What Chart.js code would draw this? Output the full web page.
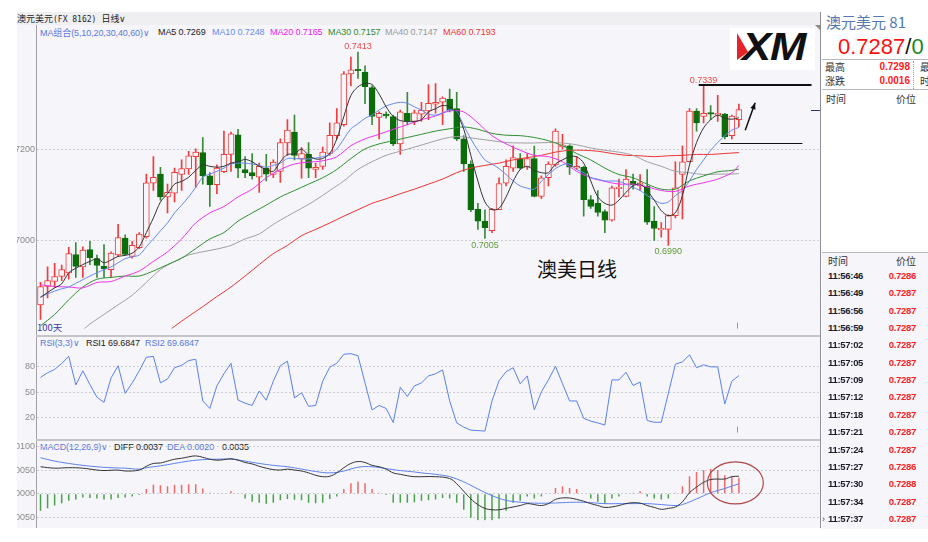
<!DOCTYPE html>
<html>
<head>
<meta charset="utf-8">
<script src="https://cdn.jsdelivr.net/npm/chart.js@4.4.1/dist/chart.umd.min.js"></script>
<style>
  body { margin: 0; width: 928px; height: 542px; background: #fff; position: relative; overflow: hidden;
         font-family: "Liberation Sans", Arial, sans-serif; }
  .abs { position: absolute; white-space: nowrap; line-height: 1; }
  canvas { position: absolute; }
  .cjk { font-family: "Noto Sans CJK SC", sans-serif; }
  .hd { font-size: 9px; letter-spacing: -0.1px; }
  .row { position: absolute; left: 0; width: 106px; font-size: 9.5px; font-weight: bold; line-height: 10px; letter-spacing: -0.3px; }
  .row .t { position: absolute; left: 6px; color: #1c1c2c; }
  .row .p { position: absolute; right: 12px; color: #ff1f1f; }
</style>
</head>
<body>
<!-- backgrounds and frame -->
<div class="abs" style="left:17px;top:12px;width:804px;height:13px;background:#efeff1"></div>
<div class="abs" style="left:17px;top:25px;width:804px;height:503px;background:#f5f5fa"></div>
<div class="abs" style="left:36px;top:25px;width:1px;height:503px;background:#a2a2a8"></div>
<div class="abs" style="left:36px;top:335px;width:785px;height:2px;background:#c4c4ca"></div>
<div class="abs" style="left:36px;top:439px;width:785px;height:2px;background:#c4c4ca"></div>
<div class="abs" style="left:820px;top:12px;width:1px;height:516px;background:#8e8e96"></div>
<div class="abs" style="left:815px;top:25px;width:0;height:0;border-top:6px solid #8a8a8a;border-left:6px solid transparent"></div>

<!-- header texts -->
<div class="abs" style="left:17px;top:14px;font-size:9px;color:#222"><span class="cjk">澳元美元</span><span style="font-family:'DejaVu Sans Mono',monospace;font-size:8px">(FX 8162)</span>&nbsp;&nbsp;<span class="cjk">日线</span>∨</div>
<div class="abs hd" style="left:40px;top:28px;color:#5a78e0">MA<span class="cjk">组合</span>(5,10,20,30,40,60)∨</div>
<div class="abs hd" style="left:158px;top:28px;color:#222">MA5 0.7269</div>
<div class="abs hd" style="left:212px;top:28px;color:#6a8cf0">MA10 0.7248</div>
<div class="abs hd" style="left:270px;top:28px;color:#ee22ee">MA20 0.7165</div>
<div class="abs hd" style="left:328px;top:28px;color:#2e8b2e">MA30 0.7157</div>
<div class="abs hd" style="left:385px;top:28px;color:#9a9a9a">MA40 0.7147</div>
<div class="abs hd" style="left:443px;top:28px;color:#ee3333">MA60 0.7193</div>

<div class="abs hd" style="left:40px;top:339px;color:#5a78e0">RSI(3,3)∨</div>
<div class="abs hd" style="left:86px;top:339px;color:#222">RSI1 69.6847</div>
<div class="abs hd" style="left:145px;top:339px;color:#5a78e0">RSI2 69.6847</div>

<div class="abs hd" style="left:40px;top:443px;color:#5a78e0">MACD(12,26,9)∨</div>
<div class="abs hd" style="left:114px;top:443px;color:#222">DIFF 0.0037</div>
<div class="abs hd" style="left:167px;top:443px;color:#5a78e0">DEA 0.0020</div>
<div class="abs hd" style="left:222px;top:443px;color:#222">0.0035</div>

<div class="abs cjk" style="left:37px;top:323px;font-size:9.5px;color:#3a3aa0">100天</div>
<div class="abs cjk" style="left:537px;top:258px;font-size:20px;line-height:22px;color:#111">澳美日线</div>

<!-- logo -->
<div class="abs" style="left:730px;top:28px;width:85px;height:42px;background:#fff;overflow:hidden">
  <div class="abs" style="left:7px;top:5px;width:11px;height:27px;background:#e8222a;clip-path:polygon(0 0,100% 70%,0 100%)"></div>
  <div class="abs" style="left:12px;top:0;font-size:38px;line-height:38px;font-weight:bold;font-style:italic;color:#111;transform:scaleX(1.15);transform-origin:left top;letter-spacing:-1px">XM</div>
</div>

<canvas id="main" width="803" height="301" style="left:17px;top:35px"></canvas>
<canvas id="rsi" width="803" height="107" style="left:17px;top:333px"></canvas>
<canvas id="macd" width="803" height="91" style="left:17px;top:437px"></canvas>

<!-- quote panel -->
<div id="panel" class="abs" style="left:822px;top:0;width:106px;height:542px;overflow:hidden;background:#fff">
  <div class="abs cjk" style="left:4px;top:12px;font-size:15px;line-height:20px;color:#5578b0">澳元美元 81</div>
  <div class="abs" style="left:16px;top:35px;font-size:22px;line-height:24px;color:#ff1010">0.7287<span style="color:#111">/</span><span style="color:#1a8a1a">0</span></div>
  <div class="abs" style="left:0;top:59px;width:106px;height:1px;background:#b8b8c0"></div>
  <div class="abs cjk" style="left:3px;top:61px;font-size:10px;line-height:12px;color:#333">最高</div>
  <div class="abs" style="left:40px;top:62px;width:48px;text-align:right;font-size:10px;font-weight:bold;color:#ff2020">0.7298</div>
  <div class="abs cjk" style="left:98px;top:61px;font-size:10px;line-height:12px;color:#333">最</div>
  <div class="abs cjk" style="left:3px;top:75px;font-size:10px;line-height:12px;color:#333">涨跌</div>
  <div class="abs" style="left:40px;top:76px;width:48px;text-align:right;font-size:10px;font-weight:bold;color:#ff2020">0.0016</div>
  <div class="abs cjk" style="left:98px;top:75px;font-size:10px;line-height:12px;color:#333">时</div>
  <div class="abs" style="left:91px;top:61px;width:0;height:28px;border-left:1px dotted #999"></div>
  <div class="abs" style="left:0;top:89px;width:106px;height:1px;background:#b8b8c0"></div>
  <div class="abs cjk" style="left:4px;top:93px;font-size:10px;line-height:12px;color:#333">时间</div>
  <div class="abs cjk" style="left:74px;top:93px;font-size:10px;line-height:12px;color:#333">价位</div>
  <div id="list" class="abs" style="left:0;top:252px;width:106px;height:276px;background:#f5f5fa;border-top:1px solid #b8b8c0">
    <div class="abs cjk" style="left:6px;top:2px;font-size:10px;line-height:12px;color:#333">时间</div>
    <div class="abs cjk" style="left:74px;top:2px;font-size:10px;line-height:12px;color:#333">价位</div>
  </div>
</div>

<script>
// daily candles, AUD/USD, oldest first
const opens = [0.6860,0.6900,0.6911,0.6922,0.6930,0.6970,0.6943,0.6981,0.6961,0.6944,
  0.6937,0.6969,0.7006,0.6966,0.6985,0.7009,0.7126,0.7146,0.7096,0.7104,
  0.7145,0.7157,0.7184,0.7193,0.7142,0.7123,0.7151,0.7189,0.7232,0.7156,
  0.7149,0.7139,0.7159,0.7145,0.7152,0.7214,0.7238,0.7179,0.7189,0.7156,
  0.7163,0.7191,0.7230,0.7254,0.7365,0.7374,0.7369,0.7335,0.7270,0.7277,
  0.7272,0.7212,0.7279,0.7261,0.7277,0.7284,0.7299,0.7303,0.7310,0.7289,
  0.7223,0.7168,0.7069,0.7043,0.7022,0.7068,0.7126,0.7159,0.7180,0.7161,
  0.7180,0.7097,0.7138,0.7166,0.7206,0.7208,0.7159,0.7161,0.7090,0.7082,
  0.7064,0.7045,0.7114,0.7097,0.7130,0.7120,0.7120,0.7043,0.7024,0.7025,
  0.7055,0.7145,0.7173,0.7284,0.7272,0.7279,0.7275,0.7277,0.7230,0.7265];
const highs = [0.6909,0.6943,0.6951,0.6947,0.6986,0.6996,0.6987,0.6999,0.6969,0.6992,
  0.6976,0.7036,0.7013,0.6999,0.7018,0.7146,0.7184,0.7161,0.7124,0.7159,
  0.7177,0.7196,0.7201,0.7226,0.7149,0.7166,0.7240,0.7238,0.7244,0.7184,
  0.7191,0.7170,0.7189,0.7177,0.7223,0.7265,0.7275,0.7204,0.7215,0.7170,
  0.7205,0.7258,0.7289,0.7370,0.7402,0.7413,0.7383,0.7339,0.7282,0.7282,
  0.7275,0.7286,0.7325,0.7286,0.7303,0.7342,0.7344,0.7315,0.7332,0.7325,
  0.7230,0.7175,0.7082,0.7068,0.7071,0.7138,0.7177,0.7208,0.7191,0.7191,
  0.7207,0.7142,0.7173,0.7245,0.7233,0.7210,0.7184,0.7163,0.7099,0.7110,
  0.7068,0.7120,0.7135,0.7156,0.7146,0.7145,0.7156,0.7075,0.7040,0.7057,
  0.7173,0.7208,0.7289,0.7289,0.7339,0.7296,0.7318,0.7279,0.7275,0.7299];
const lows = [0.6828,0.6875,0.6898,0.6913,0.6916,0.6920,0.6920,0.6948,0.6920,0.6920,
  0.6920,0.6966,0.6969,0.6962,0.6983,0.7006,0.7110,0.7089,0.7061,0.7085,
  0.7110,0.7145,0.7117,0.7124,0.7075,0.7103,0.7149,0.7152,0.7138,0.7138,
  0.7135,0.7106,0.7131,0.7138,0.7128,0.7187,0.7177,0.7137,0.7138,0.7138,
  0.7156,0.7187,0.7223,0.7251,0.7339,0.7355,0.7300,0.7254,0.7223,0.7268,
  0.7208,0.7189,0.7254,0.7254,0.7261,0.7265,0.7279,0.7254,0.7282,0.7219,
  0.7152,0.7064,0.7025,0.7005,0.7018,0.7068,0.7120,0.7152,0.7156,0.7156,
  0.7096,0.7092,0.7120,0.7163,0.7201,0.7145,0.7156,0.7054,0.7071,0.7054,
  0.7018,0.7043,0.7096,0.7096,0.7113,0.7110,0.7036,0.7001,0.7008,0.6990,
  0.7050,0.7048,0.7172,0.7240,0.7258,0.7265,0.7261,0.7223,0.7223,0.7249];
const closes = [0.6900,0.6913,0.6922,0.6937,0.6972,0.6944,0.6980,0.6963,0.6946,0.6939,
  0.6973,0.7007,0.6970,0.6990,0.7015,0.7127,0.7139,0.7096,0.7106,0.7150,
  0.7158,0.7186,0.7194,0.7142,0.7123,0.7159,0.7189,0.7234,0.7159,0.7149,
  0.7142,0.7163,0.7146,0.7172,0.7215,0.7242,0.7187,0.7191,0.7159,0.7161,
  0.7194,0.7231,0.7258,0.7365,0.7374,0.7372,0.7337,0.7272,0.7279,0.7273,
  0.7212,0.7282,0.7261,0.7280,0.7286,0.7301,0.7303,0.7312,0.7286,0.7223,
  0.7168,0.7068,0.7043,0.7029,0.7069,0.7125,0.7163,0.7182,0.7159,0.7180,
  0.7097,0.7138,0.7168,0.7240,0.7208,0.7161,0.7163,0.7090,0.7075,0.7062,
  0.7045,0.7116,0.7117,0.7135,0.7123,0.7127,0.7041,0.7027,0.7027,0.7055,
  0.7116,0.7173,0.7284,0.7258,0.7279,0.7277,0.7279,0.7228,0.7273,0.7287];

// moving averages
const ma5 = [0.6876,0.6887,0.6897,0.6906,0.6930,0.6940,0.6948,0.6955,0.6961,0.6952,
  0.6958,0.6966,0.6968,0.6973,0.6987,0.7018,0.7050,0.7085,0.7103,0.7124,
  0.7130,0.7139,0.7154,0.7166,0.7163,0.7161,0.7163,0.7170,0.7173,0.7178,
  0.7173,0.7163,0.7156,0.7152,0.7173,0.7189,0.7190,0.7201,0.7187,0.7179,
  0.7180,0.7191,0.7223,0.7272,0.7318,0.7337,0.7344,0.7342,0.7321,0.7293,
  0.7272,0.7263,0.7261,0.7261,0.7265,0.7282,0.7289,0.7296,0.7293,0.7279,
  0.7244,0.7187,0.7131,0.7085,0.7068,0.7071,0.7096,0.7130,0.7156,0.7163,
  0.7154,0.7149,0.7149,0.7168,0.7177,0.7184,0.7184,0.7170,0.7131,0.7096,
  0.7082,0.7078,0.7089,0.7106,0.7120,0.7124,0.7110,0.7089,0.7066,0.7055,
  0.7061,0.7099,0.7166,0.7215,0.7247,0.7265,0.7275,0.7268,0.7266,0.7269];
const ma10 = [0.6878,0.6884,0.6890,0.6895,0.6899,0.6907,0.6915,0.6923,0.6930,0.6937,
  0.6943,0.6952,0.6961,0.6965,0.6969,0.6987,0.7004,0.7022,0.7039,0.7061,
  0.7078,0.7096,0.7117,0.7139,0.7146,0.7152,0.7159,0.7168,0.7170,0.7170,
  0.7168,0.7165,0.7161,0.7165,0.7170,0.7180,0.7180,0.7179,0.7179,0.7181,
  0.7184,0.7189,0.7201,0.7223,0.7245,0.7256,0.7268,0.7275,0.7286,0.7295,
  0.7300,0.7303,0.7301,0.7293,0.7286,0.7277,0.7275,0.7280,0.7287,0.7282,
  0.7252,0.7223,0.7198,0.7177,0.7168,0.7158,0.7145,0.7131,0.7120,0.7115,
  0.7113,0.7130,0.7145,0.7158,0.7166,0.7168,0.7156,0.7149,0.7138,0.7135,
  0.7131,0.7131,0.7130,0.7124,0.7117,0.7110,0.7099,0.7089,0.7082,0.7085,
  0.7099,0.7110,0.7131,0.7156,0.7177,0.7198,0.7215,0.7230,0.7242,0.7248];
// [day, value] samples
const ma20 = [[0,0.6904],[2,0.6900],[4,0.6899],[6,0.6897],[8,0.6909],[10,0.6911],[12,0.6923],[14,0.6934],
  [16,0.6955],[18,0.6976],[20,0.7004],[22,0.7039],[24,0.7061],[26,0.7075],[28,0.7096],[30,0.7113],
  [32,0.7138],[34,0.7156],[36,0.7168],[38,0.7172],[40,0.7175],[42,0.7184],[44,0.7208],[46,0.7223],
  [48,0.7233],[50,0.7244],[52,0.7254],[54,0.7265],[56,0.7273],[58,0.7284],[60,0.7282],[62,0.7258],
  [64,0.7230],[66,0.7212],[68,0.7198],[70,0.7187],[72,0.7184],[74,0.7173],[76,0.7152],[78,0.7138],
  [80,0.7130],[82,0.7124],[84,0.7124],[86,0.7118],[88,0.7110],[90,0.7108],[92,0.7120],[94,0.7127],
  [96,0.7135],[98,0.7149],[99,0.7165]];
const ma30 = [[0,0.6814],[2,0.6839],[4,0.6871],[6,0.6899],[8,0.6916],[10,0.6920],[12,0.6923],[14,0.6923],
  [16,0.6934],[18,0.6948],[20,0.6962],[22,0.6983],[24,0.7004],[26,0.7018],[28,0.7043],[30,0.7061],
  [32,0.7078],[34,0.7096],[36,0.7110],[38,0.7124],[40,0.7138],[42,0.7156],[44,0.7180],[46,0.7201],
  [48,0.7212],[50,0.7219],[52,0.7226],[54,0.7233],[56,0.7240],[58,0.7245],[60,0.7249],[62,0.7244],
  [64,0.7235],[66,0.7231],[68,0.7230],[70,0.7226],[72,0.7219],[74,0.7208],[76,0.7191],[78,0.7177],
  [80,0.7159],[82,0.7145],[84,0.7138],[86,0.7124],[88,0.7113],[90,0.7113],[92,0.7131],[94,0.7142],
  [96,0.7151],[98,0.7154],[99,0.7157]];
const ma40 = [[6,0.6805],[7,0.6818],[9,0.6839],[11,0.6860],[13,0.6881],[15,0.6909],[17,0.6937],[19,0.6955],
  [21,0.6969],[23,0.6976],[25,0.6982],[27,0.6990],[29,0.7004],[31,0.7015],[33,0.7036],[35,0.7054],
  [37,0.7071],[39,0.7089],[41,0.7110],[43,0.7131],[45,0.7156],[47,0.7173],[49,0.7187],[51,0.7196],
  [53,0.7205],[55,0.7214],[57,0.7223],[59,0.7228],[62,0.7223],[64,0.7219],[66,0.7215],[68,0.7214],
  [70,0.7214],[72,0.7215],[74,0.7214],[76,0.7210],[78,0.7203],[80,0.7198],[82,0.7194],[84,0.7187],
  [86,0.7173],[88,0.7163],[90,0.7152],[92,0.7149],[94,0.7145],[96,0.7146],[98,0.7146],[99,0.7147]];
const ma60 = [[18,0.6800],[19,0.6813],[21,0.6835],[23,0.6856],[25,0.6878],[27,0.6899],[29,0.6923],[31,0.6948],
  [33,0.6972],[35,0.6990],[37,0.7011],[39,0.7025],[41,0.7039],[43,0.7054],[45,0.7068],[47,0.7082],
  [49,0.7092],[51,0.7103],[53,0.7113],[55,0.7124],[57,0.7135],[59,0.7149],[61,0.7159],[63,0.7165],
  [65,0.7170],[67,0.7177],[69,0.7182],[71,0.7187],[73,0.7194],[75,0.7198],[77,0.7198],[79,0.7196],
  [81,0.7191],[83,0.7187],[85,0.7186],[87,0.7184],[89,0.7186],[91,0.7187],[93,0.7189],[95,0.7189],
  [97,0.7191],[99,0.7193]];

const rsi = [67.5,73,77,84,92.5,58.6,75.4,59,44,38,
  67,81.4,48.6,61,75.4,91.4,92.5,61,65.7,79,
  81.8,87.5,89,39.6,30.7,57.5,71.8,84.3,40.7,37,
  34.3,51.4,40.4,63,81.4,86.8,43.2,49.3,33.2,34.3,
  63,79.6,84.3,95,95.7,93.2,61,29,34.3,30.7,
  14,55.7,45,57.5,61,69.3,71.8,76.4,39.6,13.6,
  8.6,5,4.5,3.9,39.6,63.6,74.3,79,60,69.3,
  29,50.4,64.6,80.7,60,39.6,39.6,19,15.7,13.6,
  11,64.6,64.6,73.6,58,62,16.4,14.3,14.3,48.6,
  83.2,86,94.3,79,82.5,80,80,36,63,69.7];

const macdHist = [-0.0036,-0.0031,-0.0025,-0.0020,-0.0015,-0.0012,-0.0008,-0.0009,-0.0010,-0.0012,
  -0.0012,-0.0009,-0.0008,-0.0006,-0.0003,0.0010,0.0019,0.0018,0.0016,0.0019,
  0.0019,0.0020,0.0020,0.0011,0.0002,-0.0001,0.0000,0.0005,-0.0001,-0.0010,
  -0.0017,-0.0019,-0.0021,-0.0019,-0.0014,-0.0011,-0.0013,-0.0014,-0.0019,-0.0020,
  -0.0019,-0.0011,-0.0006,0.0010,0.0022,0.0026,0.0022,0.0010,0.0002,-0.0003,
  -0.0019,-0.0019,-0.0019,-0.0018,-0.0015,-0.0014,-0.0012,-0.0009,-0.0010,-0.0019,
  -0.0034,-0.0051,-0.0056,-0.0056,-0.0056,-0.0053,-0.0036,-0.0019,-0.0015,-0.0006,
  -0.0010,-0.0006,-0.0001,0.0012,0.0016,0.0012,0.0010,0.0000,-0.0010,-0.0017,
  -0.0021,-0.0010,-0.0006,-0.0001,0.0002,0.0005,-0.0006,-0.0010,-0.0012,-0.0010,
  0.0002,0.0016,0.0037,0.0046,0.0050,0.0052,0.0050,0.0039,0.0036,0.0034];
const diffLine = [[0,0.0057],[2,0.0054],[4,0.0055],[6,0.0054],[8,0.0050],[9,0.0049],[11,0.0050],[12,0.0048],
  [14,0.0050],[15,0.0058],[16,0.0064],[17,0.0065],[18,0.0069],[19,0.0073],[20,0.0075],[21,0.0078],
  [22,0.0080],[23,0.0077],[24,0.0073],[25,0.0071],[26,0.0072],[27,0.0074],[28,0.0071],[29,0.0066],
  [30,0.0063],[31,0.0058],[32,0.0054],[33,0.0051],[34,0.0050],[35,0.0052],[36,0.0050],[37,0.0048],
  [38,0.0044],[39,0.0039],[40,0.0036],[41,0.0037],[42,0.0044],[43,0.0055],[44,0.0064],[45,0.0068],
  [46,0.0066],[47,0.0060],[48,0.0057],[49,0.0052],[50,0.0044],[51,0.0041],[52,0.0038],[53,0.0036],
  [56,0.0036],[58,0.0032],[59,0.0021],[60,0.0005],[61,-0.0011],[62,-0.0023],[63,-0.0031],[64,-0.0034],
  [65,-0.0034],[66,-0.0031],[67,-0.0028],[68,-0.0025],[69,-0.0021],[70,-0.0023],[71,-0.0025],[72,-0.0021],
  [73,-0.0012],[74,-0.0009],[75,-0.0009],[76,-0.0012],[77,-0.0016],[78,-0.0021],[79,-0.0025],[80,-0.0029],
  [81,-0.0028],[82,-0.0025],[83,-0.0021],[84,-0.0019],[85,-0.0020],[86,-0.0025],[87,-0.0029],[88,-0.0033],
  [89,-0.0031],[90,-0.0028],[91,-0.0017],[92,0.0002],[93,0.0014],[94,0.0024],[95,0.0030],[96,0.0031],
  [97,0.0031],[98,0.0036],[99,0.0037]];
const deaLine = [[0,0.0076],[2,0.0069],[4,0.0064],[6,0.0060],[8,0.0057],[10,0.0055],[12,0.0054],[14,0.0052],
  [15,0.0055],[17,0.0059],[19,0.0064],[21,0.0069],[23,0.0072],[25,0.0073],[27,0.0073],[29,0.0069],
  [31,0.0064],[33,0.0060],[35,0.0057],[37,0.0052],[39,0.0047],[41,0.0044],[43,0.0048],[45,0.0056],
  [47,0.0057],[49,0.0053],[51,0.0049],[53,0.0046],[54,0.0044],[56,0.0041],[58,0.0036],[60,0.0025],
  [62,0.0010],[64,-0.0004],[66,-0.0014],[68,-0.0018],[70,-0.0020],[72,-0.0020],[74,-0.0019],[76,-0.0018],
  [78,-0.0019],[80,-0.0021],[82,-0.0021],[84,-0.0021],[86,-0.0021],[88,-0.0023],[90,-0.0025],[91,-0.0023],
  [93,-0.0011],[95,0.0002],[97,0.0011],[99,0.0021]];

const priceTicks = [0.70, 0.72];
const priceTickLabels = ['7000', '7200'];
const rsiTicks = [20, 50, 80];
const macdTicks = [-0.005, 0, 0.005, 0.01];
const macdTickLabels = ['0050', '0000', '0050', '0100'];

const peakDays = [45, 94];
const troughDays = [63, 89];

const tickTimes = ['11:56:46','11:56:49','11:56:56','11:56:59','11:57:02','11:57:05','11:57:09','11:57:12',
  '11:57:18','11:57:21','11:57:24','11:57:27','11:57:30','11:57:34','11:57:37'];
const tickPrices = ['0.7286','0.7287','0.7287','0.7287','0.7287','0.7287','0.7287','0.7287',
  '0.7287','0.7287','0.7287','0.7286','0.7288','0.7287','0.7287'];

// quote list
const list = document.getElementById('list');
tickTimes.forEach((t, i) => {
  const row = document.createElement('div');
  row.className = 'row';
  row.style.top = (18 + i * 17.35) + 'px';
  row.innerHTML = '<span class="t">' + t + '</span><span class="p">' + tickPrices[i] + '</span>';
  list.appendChild(row);
});
const arrowMark = document.createElement('div');
arrowMark.className = 'abs';
arrowMark.style.cssText = 'left:0;top:262px;font-size:9px;color:#3344aa';
arrowMark.textContent = '›';
list.appendChild(arrowMark);

Chart.defaults.font.family = '"Liberation Sans", Arial, sans-serif';
Chart.defaults.font.size = 9;
Chart.defaults.animation = false;
Chart.defaults.plugins.legend.display = false;
Chart.defaults.plugins.tooltip.enabled = false;

const UP = '#f03c3c', DOWN = '#0b6e0b', BG = '#f5f5fa';
const up = closes.map((c, i) => c >= opens[i]);

function xAxis() {
  return { type: 'linear', min: -0.5, max: 110.5, offset: false, grid: { offset: false }, display: false };
}
function yAxis(min, max, ticks, labels) {
  return {
    min: min, max: max,
    afterFit: function (s) { s.width = 20; },
    afterBuildTicks: function (s) { s.ticks = ticks.map(v => ({ value: v })); },
    grid: { color: '#cdcdd4', drawTicks: false },
    border: { display: false, dash: [2, 2] },
    ticks: { color: '#8c8c8c', padding: 2, font: { size: 9 },
             callback: function (v, i) { return labels ? labels[i] : v; } }
  };
}
const pairs = arr => arr.map(p => ({ x: p[0], y: p[1] }));
const series = arr => arr.map((v, i) => ({ x: i, y: v }));
function maLine(data, color) {
  return { type: 'line', data: data, borderColor: color, borderWidth: 1, pointRadius: 0,
           tension: 0.3, order: 1 };
}

const mainMarks = {
  id: 'mainMarks',
  afterDatasetsDraw(chart) {
    const { ctx, chartArea: a } = chart;
    const x = chart.scales.x, y = chart.scales.y;
    ctx.save();
    ctx.font = '9px "Liberation Sans", Arial, sans-serif';
    ctx.textAlign = 'center';
    ctx.fillStyle = '#f04a4a';
    ctx.textBaseline = 'bottom';
    peakDays.forEach(d => ctx.fillText(highs[d].toFixed(4), x.getPixelForValue(d), y.getPixelForValue(highs[d]) - 1));
    ctx.fillStyle = '#5f9a35';
    ctx.textBaseline = 'top';
    troughDays.forEach(d => ctx.fillText(lows[d].toFixed(4), x.getPixelForValue(d), y.getPixelForValue(lows[d]) + 2));

    // resistance / support marks
    ctx.strokeStyle = '#111';
    ctx.lineWidth = 2;
    ctx.beginPath();
    ctx.moveTo(x.getPixelForValue(93.3), y.getPixelForValue(0.7341));
    ctx.lineTo(x.getPixelForValue(109.3), y.getPixelForValue(0.7341));
    ctx.stroke();
    ctx.lineWidth = 1;
    ctx.beginPath();
    ctx.moveTo(x.getPixelForValue(96.4), Math.round(y.getPixelForValue(0.7215)) + 0.5);
    ctx.lineTo(x.getPixelForValue(108), Math.round(y.getPixelForValue(0.7215)) + 0.5);
    ctx.stroke();

    // arrow
    const x0 = x.getPixelForValue(99.9), y0 = y.getPixelForValue(0.7242);
    const x1 = x.getPixelForValue(101.3), y1 = y.getPixelForValue(0.7302);
    const ang = Math.atan2(y1 - y0, x1 - x0);
    ctx.lineWidth = 1.5;
    ctx.beginPath(); ctx.moveTo(x0, y0); ctx.lineTo(x1, y1); ctx.stroke();
    ctx.fillStyle = '#111';
    ctx.beginPath();
    ctx.moveTo(x1, y1);
    ctx.lineTo(x1 - 7 * Math.cos(ang - 0.4), y1 - 7 * Math.sin(ang - 0.4));
    ctx.lineTo(x1 - 7 * Math.cos(ang + 0.4), y1 - 7 * Math.sin(ang + 0.4));
    ctx.closePath(); ctx.fill();

    // last price marker on right edge
    const yl = Math.round(y.getPixelForValue(closes[closes.length - 1])) + 0.5;
    ctx.strokeStyle = '#2a3590';
    ctx.lineWidth = 1;
    ctx.beginPath(); ctx.moveTo(a.right - 9, yl); ctx.lineTo(a.right, yl); ctx.stroke();

    // time separator tick
    const xt = Math.round(x.getPixelForValue(98.7)) + 0.5;
    ctx.strokeStyle = '#999';
    ctx.beginPath(); ctx.moveTo(xt, a.bottom - 6); ctx.lineTo(xt, a.bottom); ctx.stroke();
    ctx.restore();
  }
};

new Chart(document.getElementById('main'), {
  type: 'bar',
  data: {
    datasets: [
      maLine(series(ma5), '#333333'),
      maLine(series(ma10), '#6688ee'),
      maLine(pairs(ma20), '#ee33ee'),
      maLine(pairs(ma30), '#2f8f2f'),
      maLine(pairs(ma40), '#a0a0a0'),
      maLine(pairs(ma60), '#ee3333'),
      {
        data: opens.map((o, i) => ({ x: i, y: [o, closes[i]] })),
        backgroundColor: up.map(u => u ? BG : DOWN),
        borderColor: up.map(u => u ? UP : DOWN),
        borderWidth: 1, borderSkipped: false, barThickness: 6, minBarLength: 1.5,
        grouped: false, order: 2
      },
      {
        data: lows.map((l, i) => ({ x: i, y: [l, highs[i]] })),
        backgroundColor: up.map(u => u ? UP : '#3a8a3a'),
        barThickness: 1, grouped: false, order: 3
      }
    ]
  },
  options: {
    responsive: false,
    layout: { padding: { top: 5, left: 0, right: 0, bottom: 0 } },
    scales: { x: xAxis(), y: yAxis(0.6808, 0.7434, priceTicks, priceTickLabels) }
  },
  plugins: [mainMarks]
});

const rsiMarks = {
  id: 'rsiMarks',
  afterDatasetsDraw(chart) {
    const { ctx, chartArea: a } = chart;
    const xt = Math.round(chart.scales.x.getPixelForValue(98.7)) + 0.5;
    ctx.save();
    ctx.strokeStyle = '#999';
    ctx.beginPath(); ctx.moveTo(xt, a.bottom - 6); ctx.lineTo(xt, a.bottom); ctx.stroke();
    ctx.restore();
  }
};

new Chart(document.getElementById('rsi'), {
  type: 'line',
  data: {
    datasets: [{ data: series(rsi), borderColor: '#5b80ec', borderWidth: 1, pointRadius: 0, tension: 0 }]
  },
  options: {
    responsive: false,
    layout: { padding: { top: 5, left: 0, right: 0, bottom: 0 } },
    scales: { x: xAxis(), y: yAxis(2.1, 111.4, rsiTicks, null) }
  },
  plugins: [rsiMarks]
});

const macdMarks = {
  id: 'macdMarks',
  afterDatasetsDraw(chart) {
    const { ctx } = chart;
    const cx = chart.scales.x.getPixelForValue(98.5);
    const cy = chart.scales.y.getPixelForValue(0.0023);
    ctx.save();
    ctx.strokeStyle = '#b04848';
    ctx.lineWidth = 1.2;
    ctx.beginPath();
    ctx.ellipse(cx, cy, 28, 21, 0, 0, Math.PI * 2);
    ctx.stroke();
    ctx.restore();
  }
};

new Chart(document.getElementById('macd'), {
  type: 'bar',
  data: {
    datasets: [
      { type: 'line', data: pairs(diffLine), borderColor: '#333333', borderWidth: 1, pointRadius: 0, tension: 0.4, order: 1 },
      { type: 'line', data: pairs(deaLine), borderColor: '#5b80ec', borderWidth: 1, pointRadius: 0, tension: 0.4, order: 1 },
      { data: series(macdHist), backgroundColor: macdHist.map(v => v >= 0 ? '#f06a6a' : '#4aa34a'),
        barThickness: 1.5, inflateAmount: 0, order: 2 }
    ]
  },
  options: {
    responsive: false,
    layout: { padding: { top: 5, left: 0, right: 0, bottom: 0 } },
    scales: { x: xAxis(), y: yAxis(-0.00569, 0.01043, macdTicks, macdTickLabels) }
  },
  plugins: [macdMarks]
});
</script>
</body>
</html>
